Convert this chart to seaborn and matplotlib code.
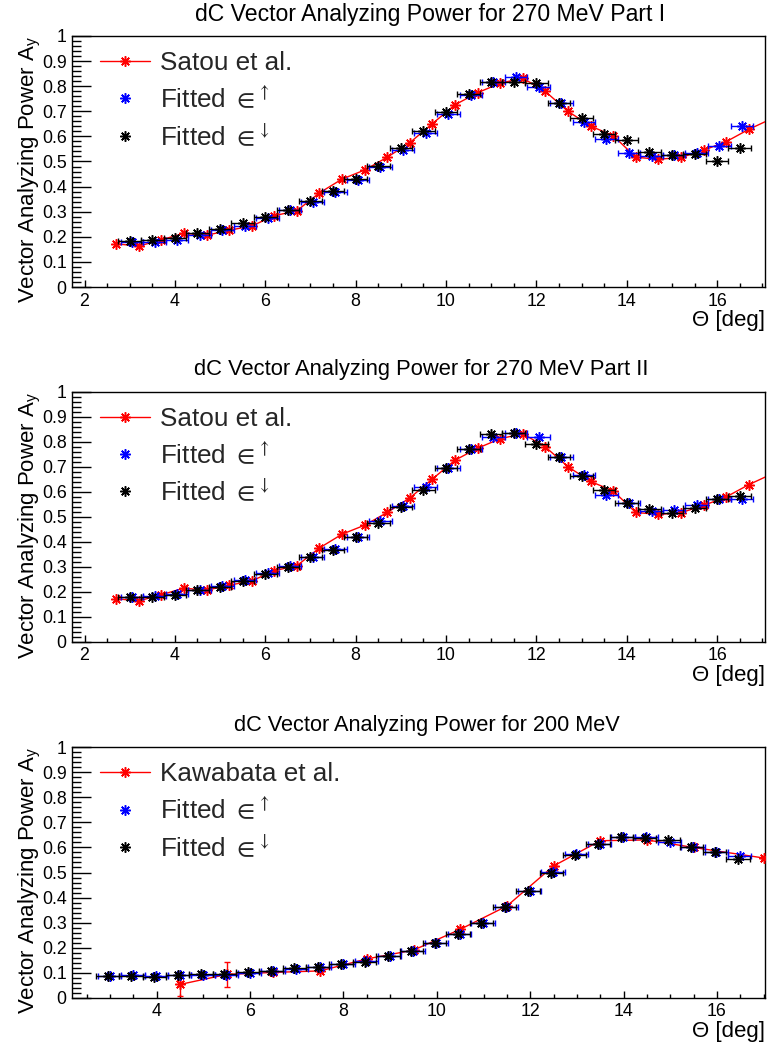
import matplotlib
matplotlib.use("Agg")
import matplotlib.pyplot as plt
import seaborn as sns
import pandas as pd
from matplotlib.lines import Line2D
from matplotlib.ticker import MultipleLocator, FuncFormatter

sns.set_theme(style="white")
plt.rcParams['font.family'] = ['Liberation Sans', 'DejaVu Sans']
plt.rcParams['mathtext.fontset'] = 'custom'
plt.rcParams['mathtext.rm'] = 'Liberation Sans'
plt.rcParams['mathtext.it'] = 'Liberation Sans:italic'
plt.rcParams['mathtext.fallback'] = 'stixsans'

# ---------------- data ----------------
satou_theta = [2.7, 3.2, 3.7, 4.2, 4.7, 5.2, 5.7, 6.2, 6.7, 7.2, 7.7, 8.2, 8.7, 9.2, 9.7,
               10.2, 10.7, 11.2, 11.7, 12.2, 12.7, 13.2, 13.7, 14.2, 14.7, 15.2, 15.7,
               16.2, 16.7, 17.2]
satou_ay = [0.172, 0.163, 0.188, 0.214, 0.206, 0.226, 0.243, 0.284, 0.304, 0.375, 0.43,
            0.466, 0.517, 0.575, 0.651, 0.726, 0.774, 0.812, 0.832, 0.779, 0.700, 0.641,
            0.603, 0.517, 0.509, 0.516, 0.545, 0.579, 0.628, 0.67]

fit_theta = [3.0, 3.5, 4.0, 4.5, 5.0, 5.5, 6.0, 6.5, 7.0, 7.5, 8.0, 8.5, 9.0, 9.5,
             10.0, 10.5, 11.0, 11.5, 12.0, 12.5, 13.0, 13.5, 14.0, 14.5, 15.0, 15.5,
             16.0, 16.5]

# Part I
p1_up = [0.178, 0.181, 0.188, 0.208, 0.226, 0.245, 0.274, 0.306, 0.34, 0.38, 0.426,
         0.479, 0.546, 0.615, 0.688, 0.765, 0.818, 0.838, 0.795, 0.732, 0.659, 0.588,
         0.535, 0.522, 0.526, 0.535, 0.562, 0.643]
p1_dn = [0.184, 0.187, 0.194, 0.216, 0.23, 0.254, 0.278, 0.307, 0.344, 0.381, 0.429,
         0.482, 0.553, 0.623, 0.696, 0.768, 0.818, 0.816, 0.812, 0.734, 0.672, 0.61,
         0.586, 0.539, 0.526, 0.53, 0.502, 0.553]

# Part II
p2_up = [0.178, 0.182, 0.19, 0.207, 0.222, 0.247, 0.274, 0.303, 0.34, 0.372, 0.42,
         0.483, 0.543, 0.618, 0.693, 0.77, 0.818, 0.834, 0.818, 0.74, 0.667, 0.587,
         0.553, 0.524, 0.527, 0.547, 0.57, 0.57]
p2_dn = [0.178, 0.18, 0.187, 0.207, 0.22, 0.243, 0.271, 0.30, 0.338, 0.367, 0.42,
         0.473, 0.54, 0.607, 0.693, 0.77, 0.831, 0.836, 0.79, 0.74, 0.663, 0.607,
         0.556, 0.53, 0.514, 0.534, 0.57, 0.583]

# 200 MeV
kawa_theta = [4.5, 5.5, 6.5, 7.5, 8.5, 9.5, 10.5, 11.5, 12.5, 13.5, 14.5, 15.5, 17.0]
kawa_ay = [0.053, 0.093, 0.101, 0.107, 0.155, 0.19, 0.273, 0.366, 0.526, 0.627, 0.63,
           0.60, 0.558]
kawa_err = [0.045, 0.05, 0.004, 0.004, 0.004, 0.004, 0.004, 0.004, 0.005, 0.005, 0.005,
            0.005, 0.005]

fit200_theta = [2.95, 3.45, 3.95, 4.45, 4.95, 5.45, 5.95, 6.45, 6.95, 7.45, 7.95, 8.45,
                8.95, 9.45, 9.95, 10.45, 10.95, 11.45, 11.95, 12.45, 12.95, 13.45, 13.95,
                14.45, 14.95, 15.45, 15.95, 16.45]
p3_up = [0.088, 0.09, 0.085, 0.09, 0.092, 0.092, 0.1, 0.106, 0.116, 0.122, 0.135, 0.145,
         0.165, 0.187, 0.22, 0.255, 0.30, 0.361, 0.426, 0.503, 0.574, 0.614, 0.64, 0.64,
         0.623, 0.60, 0.583, 0.566]
p3_dn = [0.088, 0.088, 0.083, 0.091, 0.093, 0.093, 0.101, 0.107, 0.117, 0.124, 0.136,
         0.141, 0.167, 0.187, 0.218, 0.254, 0.30, 0.361, 0.426, 0.50, 0.57, 0.614, 0.643,
         0.636, 0.63, 0.60, 0.583, 0.553]

titles = ["dC Vector Analyzing Power for 270 MeV Part I",
          "dC Vector Analyzing Power for 270 MeV Part II",
          "dC Vector Analyzing Power for 200 MeV"]
ref_labels = ["Satou et al.", "Satou et al.", "Kawabata et al."]
up_label = r"Fitted ${\in}^{\!\uparrow}$"
dn_label = r"Fitted ${\in}^{\!\downarrow}$"
ylabel = r"Vector Analyzing Power A$_{\mathrm{y}}$"
xlabel = "\u0398 [deg]"

# ---------------- figure ----------------
W, H = 768, 1042
fig = plt.figure(figsize=(W / 100, H / 100), dpi=100)
STAR = (8, 2, 0)
MS = 7.5
TICKFS = 12.8
LABFS = 16

# axes pixel boxes: (left, top, right, bottom)
boxes = [(72.3, 36, 765, 287), (72.3, 391.7, 765, 641.7), (72.3, 747.3, 765, 997.7)]
xlims = [(1.73, 17.06), (1.73, 17.06), (2.19, 17.03)]
title_cx = [430, 421, 427]
title_w = [474, 459, 390]

panels = [
    (satou_theta, satou_ay, None, fit_theta, p1_up, p1_dn, 0.05),
    (satou_theta, satou_ay, None, fit_theta, p2_up, p2_dn, 0.05),
    (kawa_theta, kawa_ay, kawa_err, fit200_theta, p3_up, p3_dn, 0.04),
]

fig.canvas.draw()
renderer = fig.canvas.get_renderer()

for i, (rx, ry, rerr, fx, fu, fd, off) in enumerate(panels):
    l, t, r, b = boxes[i]
    ax = fig.add_axes([l / W, 1 - b / H, (r - l) / W, (b - t) / H])
    ax.set_xlim(*xlims[i])
    ax.set_ylim(0, 1)

    ref_df = pd.DataFrame({"theta": rx, "ay": ry})
    up_df = pd.DataFrame({"theta": [x + off for x in fx], "ay": fu})
    dn_df = pd.DataFrame({"theta": fx, "ay": fd})

    sns.lineplot(data=ref_df, x="theta", y="ay", ax=ax, color="red", lw=1,
                 marker=STAR, markersize=MS, markeredgewidth=1.1, markeredgecolor="red",
                 sort=False, errorbar=None, legend=False, zorder=3)
    if rerr is not None:
        ax.errorbar(rx, ry, yerr=rerr, fmt="none", ecolor="red", elinewidth=1,
                    capsize=2, capthick=1, zorder=3)

    for df, col, z in ((up_df, "blue", 4), (dn_df, "black", 5)):
        ax.errorbar(df["theta"], df["ay"], xerr=0.25, fmt="none", ecolor=col,
                    elinewidth=1, capsize=2, capthick=1, zorder=z)
        sns.lineplot(data=df, x="theta", y="ay", ax=ax, color=col, linestyle="",
                     marker=STAR, markersize=MS, markeredgewidth=1.1, markeredgecolor=col,
                     sort=False, errorbar=None, legend=False, zorder=z)

    # axes styling (ROOT look)
    for s in ax.spines.values():
        s.set_color("black")
        s.set_linewidth(1)
    ax.xaxis.set_major_locator(MultipleLocator(2))
    ax.xaxis.set_minor_locator(MultipleLocator(0.5))
    ax.yaxis.set_major_locator(MultipleLocator(0.1))
    ax.yaxis.set_minor_locator(MultipleLocator(0.02))
    ax.yaxis.set_major_formatter(FuncFormatter(lambda v, p: f"{v:.1f}".rstrip("0").rstrip(".") if v > 1e-9 else "0"))
    ax.xaxis.set_major_formatter(FuncFormatter(lambda v, p: f"{v:g}"))
    ax.tick_params(axis="both", which="both", direction="in", color="black",
                   bottom=True, left=True, top=False, right=False, labelsize=TICKFS,
                   labelcolor="black")
    ax.tick_params(axis="y", which="major", length=13.7, width=1, pad=4)
    ax.tick_params(axis="y", which="minor", length=6.8, width=1)
    ax.tick_params(axis="x", which="major", length=5.4, width=1, pad=4)
    ax.tick_params(axis="x", which="minor", length=2.7, width=1)

    ax.set_ylabel(ylabel, fontsize=LABFS, loc="top", color="black")
    ax.yaxis.set_label_coords(-0.043, 1.0)
    ax.set_xlabel(xlabel, fontsize=LABFS, loc="right", color="black")
    ax.xaxis.set_label_coords(1.0, -0.092)

    handles = [
        Line2D([0], [0], color="red", lw=1, marker=STAR, markersize=MS, markeredgewidth=1.1),
        Line2D([0], [0], color="blue", ls="", marker=STAR, markersize=MS, markeredgewidth=1.1),
        Line2D([0], [0], color="black", ls="", marker=STAR, markersize=MS, markeredgewidth=1.1),
    ]
    leg = ax.legend(handles, [ref_labels[i], up_label, dn_label], loc="upper left",
                    bbox_to_anchor=(0.040, 0.94), frameon=False, fontsize=18.8,
                    handlelength=1.92, handletextpad=0.38, labelspacing=0.40,
                    borderpad=0, borderaxespad=0)
    for tx in leg.get_texts():
        tx.set_math_fontfamily("stixsans")

    # title fitted to width like ROOT's title box
    ty = 1 - (t - 22) / H
    txt = fig.text(title_cx[i] / W, ty, titles[i], ha="center", va="center",
                   fontsize=14, color="black")
    wpx = txt.get_window_extent(renderer).width
    txt.set_fontsize(14 * title_w[i] / wpx)

fig.savefig("out.png", dpi=100, facecolor="white")
